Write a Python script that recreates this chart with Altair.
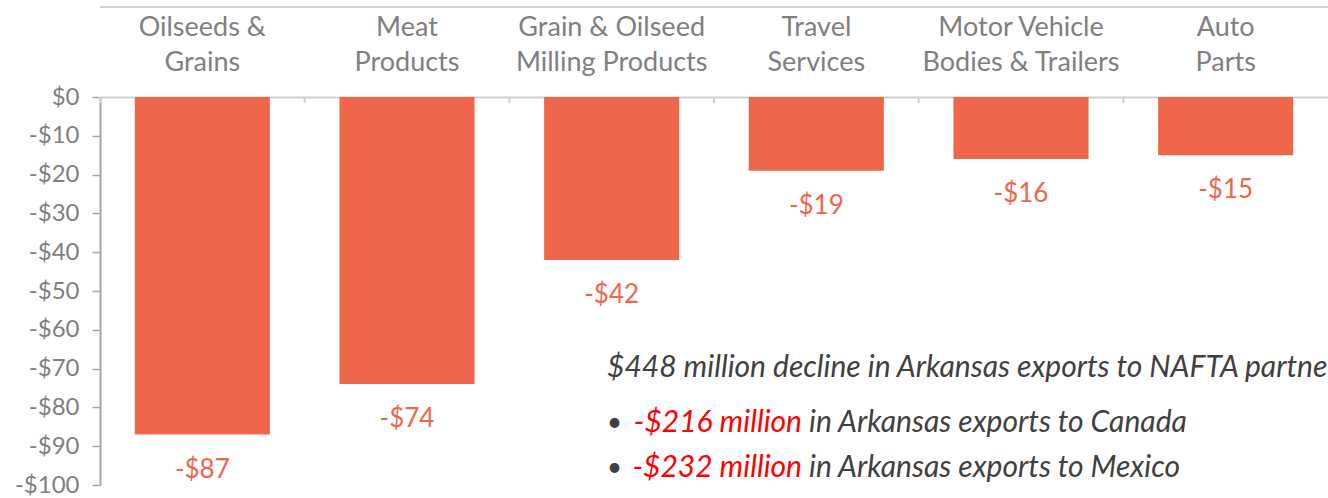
import altair as alt
import pandas as pd

# ---- data ----
categories = ["Oilseeds &|Grains", "Meat|Products", "Grain & Oilseed|Milling Products",
              "Travel|Services", "Motor Vehicle|Bodies & Trailers", "Auto|Parts"]
values = [-87, -74, -42, -19, -16, -15]
value_labels = ["-$87", "-$74", "-$42", "-$19", "-$16", "-$15"]
y_ticks = list(range(-100, 1, 10))

title_text = ["$448 million decline in Arkansas exports to NAFTA partners"]
bullet_red = ["-$216 million", "-$232 million"]
bullet_gray = ["in Arkansas exports to Canada", "in Arkansas exports to Mexico"]

FONT = "Lato"
BAR = "#F0664A"
GRAY = "#7F7F7F"
ANN = 30

df = pd.DataFrame({"category": categories, "value": values, "label": value_labels})

x_axis = alt.Axis(orient="top", title=None, labelExpr="split(datum.label, '|')",
                  labelAngle=0, labelFontSize=27, labelColor=GRAY, labelFont=FONT,
                  labelLineHeight=35, labelBaseline="middle", labelPadding=70, ticks=False,
                  labelLimit=400, domainColor="#D0D0D0", domainWidth=2)
x_scale = alt.Scale(paddingInner=0, paddingOuter=0)
x = alt.X("category:N", sort=categories, scale=x_scale, axis=x_axis)
x_edge = alt.X("category:N", sort=categories, scale=x_scale, axis=x_axis, bandPosition=0)

y = alt.Y("value:Q", scale=alt.Scale(domain=[-100, 0], nice=False),
          axis=alt.Axis(values=y_ticks, title=None, grid=False,
                        labelExpr="datum.value == 0 ? '$0' : '-$' + abs(datum.value)",
                        labelFontSize=24, labelColor=GRAY, labelFont=FONT, labelPadding=13,
                        tickSize=8, tickColor="#A6A6A6", tickWidth=1.5,
                        domainColor="#A6A6A6", domainWidth=2))

base = alt.Chart(df)
bars = base.mark_bar(width={"band": 0.66}, color=BAR).encode(x=x, y=y, y2=alt.datum(0))
labels = base.mark_text(dy=35, fontSize=26, font=FONT, color=BAR).encode(
    x=x, y=y, text="label:N")
edges = base.mark_rule(color="#D0D0D0", strokeWidth=2).encode(
    x=x_edge, y=alt.value(0), y2=alt.value(6))

top_line = alt.Chart(pd.DataFrame({"k": [0]})).mark_rule(color="#D0D0D0", strokeWidth=2).encode(
    x=alt.value(0), x2=alt.value(1228), y=alt.value(-90))

title = alt.Chart(pd.DataFrame({"t": title_text})).mark_text(
    align="left", baseline="middle", fontSize=ANN, font=FONT, fontStyle="italic", color="#404040"
).encode(x=alt.value(507), y=alt.value(271), text="t:N")

ann_layers = [top_line, bars, edges, labels, title]
row_y = [326, 371]
for i in range(len(bullet_red)):
    rdf = pd.DataFrame({"red": [bullet_red[i]], "gray": [bullet_gray[i]]})
    ann_layers.append(alt.Chart(rdf).mark_text(
        align="left", baseline="middle", fontSize=26, font=FONT, color="#404040"
    ).encode(x=alt.value(507), y=alt.value(row_y[i]), text=alt.value("•")))
    ann_layers.append(alt.Chart(rdf).mark_text(
        align="right", baseline="middle", fontSize=ANN, font=FONT, fontStyle="italic", color="#FF0000"
    ).encode(x=alt.value(702), y=alt.value(row_y[i]), text="red:N"))
    ann_layers.append(alt.Chart(rdf).mark_text(
        align="left", baseline="middle", fontSize=ANN, font=FONT, fontStyle="italic", color="#404040"
    ).encode(x=alt.value(709), y=alt.value(row_y[i]), text="gray:N"))

chart = alt.layer(*ann_layers).properties(
    width=1228, height=388,
    padding={"left": 100, "top": 97, "right": 0, "bottom": 13},
    autosize=alt.AutoSizeParams(type="none"),
    background="white",
).configure_view(stroke=None)

chart.save("out.html", embed_options={"renderer": "svg", "actions": False})
